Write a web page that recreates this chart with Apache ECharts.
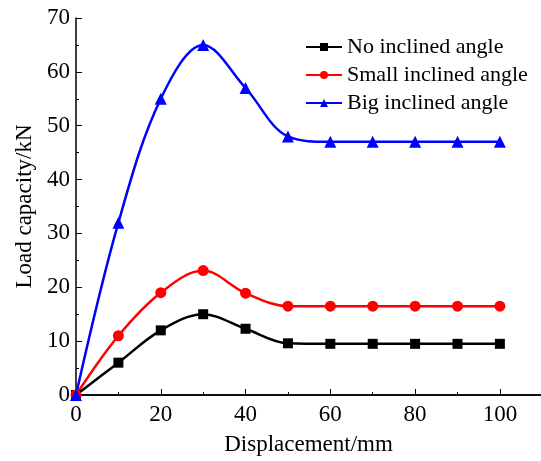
<!DOCTYPE html>
<html>
<head>
<meta charset="utf-8">
<script src="https://cdn.jsdelivr.net/npm/echarts@6/dist/echarts.min.js"></script>
<style>
  html, body { margin: 0; padding: 0; background: #fff; }
  #main { width: 541px; height: 461px; }
</style>
</head>
<body>
<div id="main"></div>
<script>
// displacement (mm)
var displacement = [0, 10, 20, 30, 40, 50, 60, 70, 80, 90, 100];
// load capacity (kN)
var noAngle    = [0, 6, 12, 15, 12.3, 9.6, 9.5, 9.5, 9.5, 9.5, 9.5];
var smallAngle = [0, 11, 19, 23.1, 18.9, 16.5, 16.5, 16.5, 16.5, 16.5, 16.5];
var bigAngle   = [0, 32, 55, 65, 57, 48, 47, 47, 47, 47, 47];
var seriesNames = ['No inclined angle', 'Small inclined angle', 'Big inclined angle'];

function pairs(ys) {
    return displacement.map(function (x, i) { return [x, ys[i]]; });
}

var font = '"Liberation Serif", "Times New Roman", serif';
var chart = echarts.init(document.getElementById('main'));
var option = {
    animation: false,
    textStyle: { fontFamily: font },
    grid: { left: 76, right: 0, top: 18, bottom: 65 },
    legend: {
        data: seriesNames,
        orient: 'vertical',
        left: 300,
        top: 31,
        itemGap: 6,
        itemWidth: 36,
        itemHeight: 10,
        textStyle: { fontFamily: font, fontSize: 22, color: '#000' }
    },
    xAxis: [{
        type: 'value',
        min: 0,
        max: 109.7,
        interval: 20,
        name: 'Displacement/mm',
        nameLocation: 'middle',
        nameGap: 38,
        nameTextStyle: { fontFamily: font, fontSize: 23, color: '#000' },
        axisLine: { onZero: false, lineStyle: { color: '#000', width: 1.5 } },
        axisTick: { inside: true, length: 6, lineStyle: { color: '#000' } },
        minorTick: { show: true, splitNumber: 2, length: 3, lineStyle: { color: '#000' } },
        axisLabel: { fontFamily: font, fontSize: 23, color: '#000', margin: 8, showMaxLabel: false },
        splitLine: { show: false }
    }, {
        type: 'value',
        position: 'top',
        min: 0,
        max: 109.7,
        axisLine: { show: true, lineStyle: { color: '#000', width: 1.5 } },
        axisTick: { show: false },
        axisLabel: { show: false },
        splitLine: { show: false }
    }],
    yAxis: {
        type: 'value',
        min: 0,
        max: 70,
        interval: 10,
        name: 'Load capacity/kN',
        nameLocation: 'middle',
        nameGap: 36,
        nameTextStyle: { fontFamily: font, fontSize: 23, color: '#000' },
        axisLine: { show: true, onZero: false, lineStyle: { color: '#000', width: 1.5 } },
        axisTick: { inside: true, length: 6, lineStyle: { color: '#000' } },
        minorTick: { show: true, splitNumber: 2, length: 3, lineStyle: { color: '#000' } },
        axisLabel: { fontFamily: font, fontSize: 23, color: '#000', margin: 6 },
        splitLine: { show: false }
    },
    series: [{
        name: seriesNames[0],
        type: 'line',
        smooth: 0.35,
        data: pairs(noAngle),
        symbol: 'rect',
        symbolSize: 10,
        color: '#000',
        lineStyle: { width: 2.5 }
    }, {
        name: seriesNames[1],
        type: 'line',
        smooth: 0.35,
        data: pairs(smallAngle),
        symbol: 'circle',
        symbolSize: 11,
        color: '#ff0000',
        lineStyle: { width: 2.5 }
    }, {
        name: seriesNames[2],
        type: 'line',
        smooth: 0.35,
        data: pairs(bigAngle),
        symbol: 'triangle',
        symbolSize: 12,
        color: '#0000ff',
        lineStyle: { width: 2.5 }
    }]
};
chart.setOption(option);
</script>
</body>
</html>
